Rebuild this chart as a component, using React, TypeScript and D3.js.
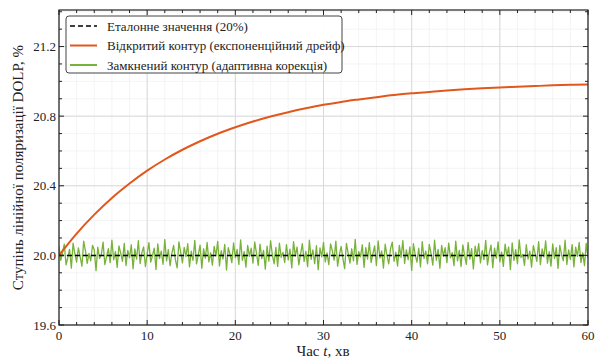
import React from "react";
import * as d3 from "d3";

const W = 598;
const H = 359;

const xTicks = [0, 10, 20, 30, 40, 50, 60];
const yTicks = [19.6, 20.0, 20.4, 20.8, 21.2];
const yTickLabels = ["19.6", "20.0", "20.4", "20.8", "21.2"];

const referenceValue = 20.0;

const openTimes = [0, 2, 4, 6, 8, 10, 12, 14, 16, 18, 20, 22, 24, 26, 28, 30, 32, 34, 36, 38, 40, 42, 44, 46, 48, 50, 52, 54, 56, 58, 60];
const openValues = [20.0, 20.125, 20.234, 20.33, 20.413, 20.487, 20.551, 20.607, 20.656, 20.699, 20.736, 20.769, 20.798, 20.823, 20.845, 20.865, 20.882, 20.896, 20.909, 20.921, 20.931, 20.939, 20.947, 20.954, 20.96, 20.965, 20.969, 20.973, 20.977, 20.98, 20.982];

const closedStep = 0.2; // minutes between closed-loop samples
const closedValues = [
  20.052, 19.971, 20.018, 20.064, 19.946, 19.988, 20.035, 19.927, 20.071, 20.009,
  19.962, 20.043, 19.991, 19.938, 20.082, 20.026, 19.954, 20.011, 19.969, 20.058,
  20.031, 19.912, 20.047, 19.983, 20.004, 20.076, 19.947, 19.995, 20.039, 19.958,
  20.088, 19.975, 20.022, 19.931, 20.055, 20.013, 19.966, 20.069, 19.942, 20.028,
  19.986, 20.061, 19.923, 20.037, 19.978, 20.084, 19.953, 20.016, 20.049, 19.936,
  20.007, 20.073, 19.961, 19.998, 20.042, 19.919, 20.066, 19.982, 20.025, 19.949,
  20.091, 19.968, 20.033, 19.941, 20.012, 20.057, 19.976, 19.929, 20.078, 20.019,
  19.957, 20.046, 19.993, 20.067, 19.934, 20.024, 19.972, 20.086, 19.951, 20.003,
  20.059, 19.926, 20.038, 19.984, 20.074, 19.963, 20.015, 19.944, 20.052, 19.997,
  20.081, 19.939, 20.027, 19.979, 20.063, 19.916, 20.044, 20.006, 19.958, 20.072,
  19.987, 20.035, 19.948, 20.089, 19.971, 20.021, 19.932, 20.058, 19.994, 20.041,
  19.955, 20.077, 20.012, 19.943, 20.065, 19.981, 20.029, 19.921, 20.053, 19.967,
  20.084, 20.002, 19.952, 20.046, 19.937, 20.071, 19.989, 20.017, 19.959, 20.062,
  19.974, 20.036, 19.928, 20.079, 19.996, 20.048, 19.945, 20.008, 20.068, 19.965,
  20.023, 19.935, 20.087, 19.977, 20.031, 19.953, 20.056, 19.918, 20.043, 19.991,
  20.075, 19.962, 20.014, 19.947, 20.066, 20.027, 19.973, 20.082, 19.938, 20.005,
  20.051, 19.983, 19.924, 20.069, 20.011, 19.956, 20.038, 19.969, 20.092, 19.948,
  20.021, 19.992, 20.061, 19.931, 20.045, 19.978, 20.073, 19.959, 20.009, 20.054,
  19.942, 20.083, 19.985, 20.026, 19.927, 20.064, 19.998, 19.951, 20.037, 20.076,
  19.966, 20.018, 19.939, 20.058, 19.989, 20.085, 19.954, 20.032, 19.975, 20.049,
  19.914, 20.067, 20.003, 19.961, 20.041, 19.933, 20.079, 19.982, 20.024, 19.952,
  20.063, 20.01, 19.944, 20.088, 19.972, 20.035, 19.926, 20.057, 19.995, 20.044,
  19.958, 20.071, 19.986, 20.016, 19.941, 20.082, 19.968, 20.029, 19.936, 20.06,
  20.001, 19.949, 20.074, 19.979, 20.039, 19.922, 20.053, 19.993, 20.068, 19.957,
  20.027, 19.976, 20.086, 19.945, 20.013, 20.059, 19.929, 20.042, 19.984, 20.077,
  19.963, 20.019, 19.937, 20.065, 19.997, 20.048, 19.918, 20.072, 19.971, 20.033,
  19.952, 20.089, 19.988, 20.006, 19.943, 20.061, 19.979, 20.025, 19.932, 20.056,
  20.012, 19.965, 20.079, 19.947, 20.037, 19.991, 20.083, 19.955, 20.021, 19.938,
  20.066, 19.982, 20.045, 19.925, 20.058, 20.004, 19.969, 20.087, 19.948, 20.031,
  19.977, 20.062, 19.934, 20.047, 19.994, 20.074, 19.959, 20.015, 19.941, 20.069,
  19.986,
];

const legendLabels = [
  "Еталонне значення (20%)",
  "Відкритий контур (експоненційний дрейф)",
  "Замкнений контур (адаптивна корекція)",
];

const ORANGE = "#e2571c";
const GREEN = "#77b23a";
const FONT = '"Liberation Serif", "DejaVu Serif", "Times New Roman", serif';

export default function App() {
  const left = 59;
  const right = 588;
  const top = 10;
  const bottom = 325;

  const x = d3.scaleLinear().domain([0, 60]).range([left, right]);
  const y = d3.scaleLinear().domain([19.6, 21.41]).range([bottom, top]);

  const xMinor = d3.range(0, 60.001, 2);
  const yMinor = d3.range(19.6, 21.41, 0.1);

  const openPath = d3
    .line<[number, number]>()
    .x((d) => x(d[0]))
    .y((d) => y(d[1]))
    .curve(d3.curveMonotoneX)(openTimes.map((t, i) => [t, openValues[i]] as [number, number]))!;
  const closedPath = d3
    .line<[number, number]>()
    .x((d) => x(d[0]))
    .y((d) => y(d[1]))(closedValues.map((v, i) => [i * closedStep, v] as [number, number]))!;

  const textStyle: React.CSSProperties = { fontFamily: FONT };

  return (
    <svg
      width={W}
      height={H}
      style={{ position: "absolute", left: 0, top: 0, background: "#fff", fontFamily: FONT }}
    >
      <defs>
        <clipPath id="plotClip">
          <rect x={left} y={top} width={right - left} height={bottom - top} />
        </clipPath>
      </defs>
      {/* minor grid */}
      {xMinor.map((v) => (
        <line key={"xm" + v} x1={x(v)} x2={x(v)} y1={top} y2={bottom} stroke="#efefef" strokeWidth={0.7} />
      ))}
      {yMinor.map((v) => (
        <line key={"ym" + v} x1={left} x2={right} y1={y(v)} y2={y(v)} stroke="#efefef" strokeWidth={0.7} />
      ))}
      {/* major grid */}
      {xTicks.map((v) => (
        <line key={"xg" + v} x1={x(v)} x2={x(v)} y1={top} y2={bottom} stroke="#d9d9d9" strokeWidth={1} />
      ))}
      {yTicks.map((v) => (
        <line key={"yg" + v} x1={left} x2={right} y1={y(v)} y2={y(v)} stroke="#d9d9d9" strokeWidth={1} />
      ))}

      <g clipPath="url(#plotClip)">
        <path d={closedPath} fill="none" stroke={GREEN} strokeWidth={1.3} strokeLinejoin="round" />
        <path d={openPath} fill="none" stroke={ORANGE} strokeWidth={2} />
        <line
          x1={x(0)}
          x2={x(60)}
          y1={y(referenceValue)}
          y2={y(referenceValue)}
          stroke="#000"
          strokeWidth={1.5}
          strokeDasharray="5,3"
        />
      </g>

      {/* ticks inward on all sides */}
      {xMinor.map((v) => (
        <g key={"xt" + v}>
          <line x1={x(v)} x2={x(v)} y1={bottom} y2={bottom - (v % 10 === 0 ? 5 : 3)} stroke="#222" />
          <line x1={x(v)} x2={x(v)} y1={top} y2={top + (v % 10 === 0 ? 5 : 3)} stroke="#222" />
        </g>
      ))}
      {yMinor.map((v, i) => (
        <g key={"yt" + i}>
          <line x1={left} x2={left + (i % 4 === 0 ? 5 : 3)} y1={y(v)} y2={y(v)} stroke="#222" />
          <line x1={right} x2={right - (i % 4 === 0 ? 5 : 3)} y1={y(v)} y2={y(v)} stroke="#222" />
        </g>
      ))}
      <rect x={left} y={top} width={right - left} height={bottom - top} fill="none" stroke="#222" strokeWidth={1.2} />

      {/* tick labels */}
      {xTicks.map((v) => (
        <text key={"xl" + v} x={x(v)} y={bottom + 15} textAnchor="middle" fontSize={13} fill="#222" style={textStyle}>
          {v}
        </text>
      ))}
      {yTicks.map((v, i) => (
        <text key={"yl" + v} x={left - 3} y={y(v) + 4.5} textAnchor="end" fontSize={13} fill="#222" style={textStyle}>
          {yTickLabels[i]}
        </text>
      ))}

      {/* axis titles */}
      <text x={323} y={356} textAnchor="middle" fontSize={15} fill="#222" style={textStyle}>
        Час <tspan fontStyle="italic">t</tspan>, хв
      </text>
      <text
        transform={`translate(23, ${(top + bottom) / 2}) rotate(-90)`}
        textAnchor="middle"
        fontSize={15}
        fill="#222"
        style={textStyle}
      >
        Ступінь лінійної поляризації DOLP, %
      </text>

      {/* legend */}
      <g>
        <rect x={66} y={16} width={276} height={57} rx={3} fill="#fff" fillOpacity={0.92} stroke="#444" strokeWidth={1} />
        {legendLabels.map((label, i) => {
          const ly = 26 + i * 19.5;
          return (
            <g key={label}>
              <line
                x1={70}
                x2={97}
                y1={ly}
                y2={ly}
                stroke={i === 0 ? "#000" : i === 1 ? ORANGE : GREEN}
                strokeWidth={i === 0 ? 1.5 : 2}
                strokeDasharray={i === 0 ? "5,3" : undefined}
              />
              <text x={107} y={ly + 4.5} fontSize={13} fill="#222" style={textStyle}>
                {label}
              </text>
            </g>
          );
        })}
      </g>
    </svg>
  );
}
